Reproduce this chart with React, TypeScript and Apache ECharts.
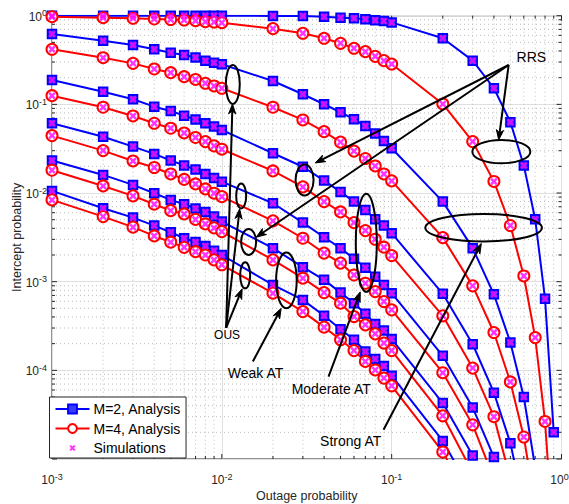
import React, { useEffect, useRef } from 'react';
import * as echarts from 'echarts';

const FONT = '"Liberation Sans", Arial, Helvetica, sans-serif';

// Outage probability grid on which every curve is evaluated
const outage = [
  0.001, 0.002, 0.003, 0.004, 0.005, 0.006, 0.007, 0.008, 0.009,
  0.01, 0.02, 0.03, 0.04, 0.05, 0.06, 0.07, 0.08, 0.09,
  0.1, 0.2, 0.3, 0.4, 0.5, 0.6, 0.7, 0.8, 0.9,
];

// Intercept probability, M = 2 (six scenarios, top to bottom)
const m2Curve1 = [1, 1, 1, 1, 1, 1, 1, 1, 1, 1, 0.995, 0.99, 0.975, 0.95, 0.935, 0.91, 0.89, 0.87, 0.84, 0.556, 0.311, 0.152, 0.063, 0.0204, 0.00507, 6.4e-4, 2.0e-5];
const m2Curve2 = [0.622, 0.523, 0.467, 0.418, 0.383, 0.36, 0.338, 0.311, 0.295, 0.283, 0.1836, 0.13, 0.1003, 0.0815, 0.0679, 0.0571, 0.047, 0.0387, 0.032, 0.008, 0.00239, 7.2e-4, 2.06e-4, 5.0e-5, 8e-6];
const m2Curve3 = [0.1884, 0.139, 0.1142, 0.0942, 0.0843, 0.0746, 0.0676, 0.0612, 0.0561, 0.0514, 0.0281, 0.0198, 0.0138, 0.0103, 0.008, 0.00645, 0.00507, 0.00431, 0.00352, 7.29e-4, 1.97e-4, 5.6e-5, 1.51e-5, 3e-6];
const m2Curve4 = [0.0612, 0.0432, 0.0334, 0.0276, 0.0233, 0.0205, 0.01845, 0.0164, 0.0148, 0.01344, 0.00767, 0.00464, 0.00317, 0.00239, 0.00181, 0.00144, 0.00114, 9.2e-4, 7.42e-4, 1.46e-4, 3.8e-5, 1.05e-5, 2.5e-6];
const m2Curve5 = [0.0233, 0.016, 0.01234, 0.00995, 0.00836, 0.00748, 0.0067, 0.00612, 0.00542, 0.00476, 0.00239, 0.001457, 0.001048, 7.53e-4, 5.72e-4, 4.34e-4, 3.34e-4, 2.81e-4, 2.25e-4, 4.27e-5, 1.095e-5, 2.5e-6];
const m2Curve6 = [0.01056, 0.00674, 0.00528, 0.00429, 0.00361, 0.00309, 0.0028, 0.00253, 0.00224, 0.002, 9.2e-4, 6.23e-4, 4.12e-4, 2.91e-4, 2.21e-4, 1.63e-4, 1.34e-4, 1.12e-4, 8.7e-5, 1.6e-5, 4e-6];

// Intercept probability, M = 4 (same six scenarios)
const m4Curve1 = [0.974, 0.949, 0.935, 0.918, 0.905, 0.894, 0.878, 0.856, 0.849, 0.834, 0.714, 0.633, 0.556, 0.488, 0.429, 0.393, 0.348, 0.311, 0.285, 0.101, 0.038, 0.0135, 0.0043, 0.00116, 2.34e-4, 2.65e-5, 1e-6];
const m4Curve2 = [0.418, 0.336, 0.29, 0.2506, 0.2277, 0.2052, 0.1909, 0.1729, 0.1612, 0.1519, 0.0928, 0.0667, 0.0492, 0.0375, 0.0297, 0.0245, 0.0202, 0.0164, 0.0137, 0.00314, 8.97e-4, 2.67e-4, 7.4e-5, 1.77e-5, 3e-6];
const m4Curve3 = [0.1253, 0.0928, 0.074, 0.0612, 0.0538, 0.0476, 0.0423, 0.038, 0.034, 0.0312, 0.01775, 0.01172, 0.008, 0.00612, 0.00464, 0.00377, 0.00301, 0.00245, 0.00197, 4.12e-4, 1.06e-4, 3.0e-5, 6e-6];
const m4Curve4 = [0.0444, 0.0301, 0.023, 0.0194, 0.0164, 0.01423, 0.01266, 0.01112, 0.00995, 0.0091, 0.00485, 0.00309, 0.0021, 0.00162, 0.00119, 9.6e-4, 7.73e-4, 5.97e-4, 4.81e-4, 9.4e-5, 2.43e-5, 6e-6];
const m4Curve5 = [0.01807, 0.01202, 0.00928, 0.00748, 0.00633, 0.00581, 0.00504, 0.00448, 0.00404, 0.00367, 0.00176, 0.001095, 7.53e-4, 5.72e-4, 4.04e-4, 3.26e-4, 2.58e-4, 2.03e-4, 1.67e-4, 3.07e-5, 7e-6];
const m4Curve6 = [0.00836, 0.00542, 0.00412, 0.00328, 0.00279, 0.00244, 0.00218, 0.002, 0.00176, 0.00155, 7.42e-4, 4.6e-4, 3.07e-4, 2.21e-4, 1.67e-4, 1.26e-4, 1.01e-4, 8.17e-5, 6.69e-5, 1.2e-5, 3e-6];

const m2Curves = [m2Curve1, m2Curve2, m2Curve3, m2Curve4, m2Curve5, m2Curve6];
const m4Curves = [m4Curve1, m4Curve2, m4Curve3, m4Curve4, m4Curve5, m4Curve6];

const legendNames = ['M=2, Analysis', 'M=4, Analysis', 'Simulations'];

// Axis decades and the minor steps inside each decade
const xRange = [1e-3, 1];
const yRange = [1e-5, 1];
const xDecades = [1e-3, 1e-2, 1e-1, 1];
const yDecades = [1e-5, 1e-4, 1e-3, 1e-2, 1e-1, 1];
const minorSteps = [2, 3, 4, 5, 6, 7, 8, 9];

// Annotations, placed in data coordinates (radii in pixels)
const ellipses = [
  { at: [0.0116, 0.168], rx: 7, ry: 19.5 },
  { at: [0.0307, 0.01405], rx: 9, ry: 15.5 },
  { at: [0.013, 0.00928], rx: 5, ry: 12.5 },
  { at: [0.01438, 0.00281], rx: 7.5, ry: 13 },
  { at: [0.01372, 0.001178], rx: 5, ry: 13 },
  { at: [0.024, 0.001034], rx: 10.3, ry: 27.8 },
  { at: [0.0709, 0.00274], rx: 10.5, ry: 49 },
  { at: [0.4424, 0.0293], rx: 29, ry: 11.7 },
  { at: [0.3479, 0.00406], rx: 58.3, ry: 13.8 },
];

const arrows = [
  { from: [0.4886, 0.278], to: [0.4266, 0.0397] },
  { from: [0.4886, 0.278], to: [0.03546, 0.02184] },
  { from: [0.4886, 0.278], to: [0.01593, 0.003175] },
  { from: [0.0106, 3.013e-4], to: [0.01155, 0.101] },
  { from: [0.0106, 3.013e-4], to: [0.01273, 0.00662] },
  { from: [0.0106, 3.013e-4], to: [0.01317, 8.3e-4] },
  { from: [0.01523, 1.257e-4], to: [0.02236, 5.0e-4] },
  { from: [0.04248, 8.51e-5], to: [0.06531, 7.67e-4] },
  { from: [0.08958, 2.134e-5], to: [0.3373, 0.0027] },
];

const notes = [
  { text: 'RRS', at: [0.6647, 0.3423], size: 14 },
  { text: 'OUS', at: [0.01074, 2.51e-4], size: 12 },
  { text: 'Weak AT', at: [0.01578, 9.37e-5], size: 14 },
  { text: 'Moderate AT', at: [0.04406, 6.18e-5], size: 14 },
  { text: 'Strong AT', at: [0.0574, 1.583e-5], size: 14 },
];

const CROSS = 'path://M0,2.3 L2.3,0 L5,2.7 L7.7,0 L10,2.3 L7.3,5 L10,7.7 L7.7,10 L5,7.3 L2.3,10 L0,7.7 L2.7,5 Z';
// Same cross with a wider bounding box so the legend draws it smaller
const CROSS_LEGEND = 'path://M-4,-4 L-3.99,-4 L-4,-3.99 Z M14,14 L13.99,14 L14,13.99 Z M0,2.3 L2.3,0 L5,2.7 L7.7,0 L10,2.3 L7.3,5 L10,7.7 L7.7,10 L5,7.3 L2.3,10 L0,7.7 L2.7,5 Z';

function powLabel(v: number, hideExp?: number, lastExp?: number) {
  const lg = Math.log10(v);
  const e = Math.round(lg);
  if (Math.abs(lg - e) > 1e-6 || e === hideExp) return '';
  return e === lastExp ? `{b|10}{sl|${e}}` : `{b|10}{s|${e}}`;
}

function toPoints(values: number[]) {
  return values.map((v, i) => [outage[i], v]);
}

export default function App() {
  const ref = useRef<HTMLDivElement>(null);

  useEffect(() => {
    if (!ref.current) return;
    const chart = echarts.init(ref.current, null, { renderer: 'svg' });

    const gridItems: number[][] = [];
    xDecades.slice(0, -1).forEach((d) => minorSteps.forEach((m) => gridItems.push([d * m, 1e-2, 0])));
    yDecades.slice(0, -1).forEach((d) => minorSteps.forEach((m) => gridItems.push([1e-2, d * m, 1])));
    xDecades.forEach((d) => gridItems.push([d, 1e-2, 2]));
    yDecades.forEach((d) => gridItems.push([1e-2, d, 3]));

    const lineSeries: any[] = [];
    const simSeries: any[] = [];
    const addCurve = (vals: number[], m2: boolean) => {
      const color = m2 ? '#0000ff' : '#ff0000';
      lineSeries.push({
        type: 'line',
        name: m2 ? legendNames[0] : legendNames[1],
        data: toPoints(vals),
        symbol: m2 ? 'rect' : 'circle',
        symbolSize: m2 ? 8.5 : 11,
        showSymbol: true,
        clip: true,
        z: 3,
        lineStyle: { color, width: 2 },
        itemStyle: { color: m2 ? '#3a3aff' : '#ffffff', borderColor: color, borderWidth: 2 },
        emphasis: { disabled: true },
      });
      simSeries.push({
        type: 'scatter',
        name: legendNames[2],
        data: toPoints(vals).filter((p) => p[1] >= yRange[0]),
        symbol: CROSS,
        symbolSize: 7.5,
        clip: false,
        z: 4,
        itemStyle: { color: '#ff00ff' },
        emphasis: { disabled: true },
      });
    };
    m2Curves.forEach((c, i) => {
      addCurve(c, true);
      addCurve(m4Curves[i], false);
    });

    const tickText = { color: '#262626', fontFamily: FONT };

    const option: any = {
      animation: false,
      backgroundColor: '#ffffff',
      textStyle: { fontFamily: FONT },
      grid: {
        left: 52,
        right: 7.5,
        top: 15.7,
        bottom: 45,
        containLabel: false,
        outerBoundsMode: 'none',
        show: true,
        borderColor: '#262626',
        borderWidth: 1,
        backgroundColor: 'transparent',
      },
      legend: {
        orient: 'vertical',
        left: 49.5,
        top: 397,
        itemWidth: 34,
        itemHeight: 11,
        itemGap: 5.5,
        padding: [5, 5, 3, 5],
        backgroundColor: '#ffffff',
        borderColor: '#262626',
        borderWidth: 1,
        borderRadius: 0,
        z: 10,
        selectedMode: false,
        textStyle: { fontSize: 14, color: '#000000', fontFamily: FONT, padding: [0, 0, 0, -1] },
        data: [
          { name: legendNames[0] },
          { name: legendNames[1] },
          { name: legendNames[2], icon: CROSS_LEGEND },
        ],
      },
      xAxis: {
        type: 'log',
        logBase: 10,
        min: xRange[0],
        max: xRange[1],
        name: 'Outage probability',
        nameLocation: 'middle',
        nameGap: 30,
        nameMoveOverlap: false,
        nameTextStyle: { fontSize: 12.5, color: '#262626', fontFamily: FONT },
        axisLine: { show: false },
        axisTick: { show: false },
        splitLine: { show: true, lineStyle: { color: '#dfdfdf', width: 1 } },
        axisLabel: {
          margin: 13,
          formatter: (v: number) => powLabel(v, undefined, 0),
          rich: {
            b: { fontSize: 12, lineHeight: 14, verticalAlign: 'bottom', ...tickText },
            s: { fontSize: 9, lineHeight: 9, verticalAlign: 'top', padding: [0, 0, 6, 0], ...tickText },
            sl: { fontSize: 9, lineHeight: 9, verticalAlign: 'top', padding: [0, 4, 6, 0], ...tickText },
          },
        },
      },
      yAxis: {
        type: 'log',
        logBase: 10,
        min: yRange[0],
        max: yRange[1],
        name: 'Intercept probability',
        nameLocation: 'middle',
        nameGap: 29,
        nameMoveOverlap: false,
        nameTextStyle: { fontSize: 12.5, color: '#262626', fontFamily: FONT },
        axisLine: { show: false },
        axisTick: { show: false },
        splitLine: { show: true, lineStyle: { color: '#dfdfdf', width: 1 } },
        axisLabel: {
          margin: 5,
          formatter: (v: number) => powLabel(v, -5),
          rich: {
            b: { fontSize: 12, lineHeight: 14, verticalAlign: 'bottom', ...tickText },
            s: { fontSize: 9, lineHeight: 9, verticalAlign: 'top', padding: [0, 0, 7, 0], ...tickText },
          },
        },
      },
      series: [
        {
          type: 'custom',
          name: 'axes-grid',
          data: gridItems,
          z: 1,
          silent: true,
          clip: false,
          renderItem: (params: any, api: any) => {
            const kind = api.value(2);
            const p = api.coord([api.value(0), api.value(1)]);
            const cs = params.coordSys;
            const l = cs.x;
            const r = cs.x + cs.width;
            const t = cs.y;
            const b = cs.y + cs.height;
            const len = kind >= 2 ? 5 : 3;
            const tickStyle = { stroke: '#262626', lineWidth: 1 };
            const children: any[] = [];
            if (kind === 0 || kind === 2) {
              const x = p[0];
              if (kind === 0) {
                children.push({ type: 'line', shape: { x1: x, y1: t, x2: x, y2: b }, style: { stroke: '#bdbdbd', lineWidth: 1, lineDash: [1, 3] } });
              }
              children.push({ type: 'line', shape: { x1: x, y1: b, x2: x, y2: b - len }, style: tickStyle });
              children.push({ type: 'line', shape: { x1: x, y1: t, x2: x, y2: t + len }, style: tickStyle });
            } else {
              const y = p[1];
              if (kind === 1) {
                children.push({ type: 'line', shape: { x1: l, y1: y, x2: r, y2: y }, style: { stroke: '#bdbdbd', lineWidth: 1, lineDash: [1, 3] } });
              }
              children.push({ type: 'line', shape: { x1: l, y1: y, x2: l + len, y2: y }, style: tickStyle });
              children.push({ type: 'line', shape: { x1: r, y1: y, x2: r - len, y2: y }, style: tickStyle });
            }
            return { type: 'group', children };
          },
        },
        ...lineSeries,
        ...simSeries,
      ],
    };

    chart.setOption(option);

    // Annotations: ellipses, arrows and their captions
    const px = (pt: number[]) => chart.convertToPixel({ gridIndex: 0 }, pt) as number[];
    const graphics: any[] = [];
    ellipses.forEach((e) => {
      const c = px(e.at);
      graphics.push({
        type: 'ellipse',
        shape: { cx: c[0], cy: c[1], rx: e.rx, ry: e.ry },
        style: { fill: 'none', stroke: '#000000', lineWidth: 2 },
        z: 20,
      });
    });
    arrows.forEach((a) => {
      const s = px(a.from);
      const t = px(a.to);
      const dx = t[0] - s[0];
      const dy = t[1] - s[1];
      const d = Math.hypot(dx, dy);
      const ux = dx / d;
      const uy = dy / d;
      const nx = -uy;
      const ny = ux;
      const L = 10;
      const W = 3.6;
      const bx = t[0] - L * ux;
      const by = t[1] - L * uy;
      const notchX = t[0] - 0.7 * L * ux;
      const notchY = t[1] - 0.7 * L * uy;
      graphics.push({
        type: 'line',
        shape: { x1: s[0], y1: s[1], x2: notchX, y2: notchY },
        style: { stroke: '#000000', lineWidth: 2 },
        z: 20,
      });
      graphics.push({
        type: 'polygon',
        shape: { points: [[t[0], t[1]], [bx + W * nx, by + W * ny], [notchX, notchY], [bx - W * nx, by - W * ny]] },
        style: { fill: '#000000', stroke: '#000000', lineWidth: 1 },
        z: 20,
      });
    });
    notes.forEach((n) => {
      const c = px(n.at);
      graphics.push({
        type: 'text',
        x: c[0],
        y: c[1],
        style: { text: n.text, fontSize: n.size, fontFamily: FONT, fill: '#000000', align: 'center', verticalAlign: 'middle' },
        z: 21,
      });
    });
    chart.setOption({ graphic: graphics });

    return () => chart.dispose();
  }, []);

  return (
    <div
      ref={ref}
      style={{ position: 'fixed', left: 0, top: 0, width: 569, height: 504, background: '#ffffff' }}
    />
  );
}
